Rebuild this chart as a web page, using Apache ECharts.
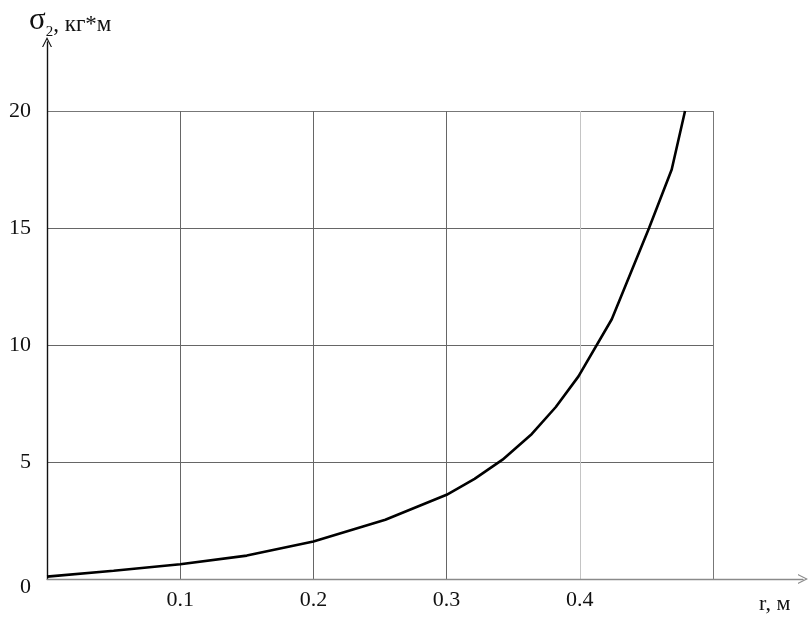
<!DOCTYPE html>
<html><head><meta charset="utf-8">
<script src="https://cdn.jsdelivr.net/npm/echarts@6/dist/echarts.min.js"></script>
<style>html,body{margin:0;padding:0;background:#fff}#c{width:809px;height:618px}</style>
</head><body><div id="c"></div>
<script>
const rValues = [0, 0.05, 0.1, 0.15, 0.2, 0.254, 0.3, 0.321, 0.342, 0.364, 0.382, 0.399, 0.424, 0.452, 0.469, 0.479];
const sigmaValues = [0.1, 0.35, 0.63, 1.0, 1.6, 2.53, 3.6, 4.28, 5.1, 6.2, 7.35, 8.66, 11.1, 15.0, 17.5, 20.0];
const xTickLabels = ['0.1', '0.2', '0.3', '0.4'];
const yTickLabels = ['0', '5', '10', '15', '20'];
const xTitle = 'r, м';
const yTitleMain = 'σ';
const yTitleSub = '2';
const yTitleRest = ', кг*м';

const font = "'Liberation Serif', 'Times New Roman', serif";
const chart = echarts.init(document.getElementById('c'), null, {renderer: 'canvas'});
const arrowPath = 'path://M0,10 L5,0 L10,10 L8.8,10 L5,2.4 L1.2,10 Z';

chart.setOption({
  animation: false,
  backgroundColor: '#fff',
  title: [
    {
      text: '{s|' + yTitleMain + '}{sub|' + yTitleSub + '}{t|' + yTitleRest + '}',
      left: 24, top: 0,
      textStyle: {
        fontWeight: 'normal',
        rich: {
          s: {fontFamily: font, fontSize: 31, fontWeight: 'normal', color: '#111', verticalAlign: 'bottom'},
          sub: {fontFamily: font, fontSize: 15, fontWeight: 'normal', color: '#111', verticalAlign: 'bottom', padding: [0, 0, -4, 0]},
          t: {fontFamily: font, fontSize: 23, fontWeight: 'normal', color: '#111', verticalAlign: 'bottom'}
        }
      }
    },
    {
      text: xTitle, left: 754, top: 588,
      textStyle: {fontFamily: font, fontSize: 22, fontWeight: 'normal', color: '#111'}
    }
  ],
  grid: [
    {left: 47, right: 96, top: 111, bottom: 39, containLabel: false},
    {left: 47, right: 6, top: 42, bottom: 39, containLabel: false}
  ],
  xAxis: [
    {
      type: 'value', gridIndex: 0, min: 0, max: 0.5, interval: 0.1,
      axisLine: {show: false}, axisTick: {show: false},
      axisLabel: {
        fontFamily: font, fontSize: 22, color: '#111', margin: 10,
        formatter: v => { const s = v.toFixed(1); return xTickLabels.includes(s) ? s : ''; }
      },
      splitLine: {show: true, lineStyle: {color: ['#222', '#666', '#666', '#666', '#c4c4c4', '#777'], width: 1}}
    },
    {
      type: 'value', gridIndex: 1, min: 0, max: 1,
      axisLine: {show: true, onZero: false, symbol: ['none', arrowPath], symbolSize: [12, 10], symbolOffset: [0, 0],
        lineStyle: {color: '#8a8a8a', width: 1.4}},
      axisTick: {show: false}, axisLabel: {show: false}, splitLine: {show: false}, z: 5
    }
  ],
  yAxis: [
    {
      type: 'value', gridIndex: 0, min: 0, max: 20, interval: 5,
      axisLine: {show: false}, axisTick: {show: false},
      axisLabel: {
        fontFamily: font, fontSize: 22, color: '#111', margin: 16,
        formatter: v => {
          const s = String(v);
          if (!yTickLabels.includes(s)) return '';
          return s === '0' ? '{z|0}' : s;
        },
        rich: {z: {fontFamily: font, fontSize: 22, color: '#111', padding: [16, 0, 0, 0]}}
      },
      splitLine: {show: true, lineStyle: {color: ['#999', '#666', '#666', '#666', '#777'], width: 1}}
    },
    {
      type: 'value', gridIndex: 1, min: 0, max: 1,
      axisLine: {show: true, onZero: false, symbol: ['none', arrowPath], symbolSize: [12, 10], symbolOffset: [0, 0],
        lineStyle: {color: '#111', width: 1.4}},
      axisTick: {show: false}, axisLabel: {show: false}, splitLine: {show: false}, z: 5
    }
  ],
  series: [{
    type: 'line', xAxisIndex: 0, yAxisIndex: 0,
    data: rValues.map((r, i) => [r, sigmaValues[i]]),
    showSymbol: false, smooth: false,
    lineStyle: {color: '#000', width: 2.6},
    z: 10
  }]
});
</script>
</body></html>
